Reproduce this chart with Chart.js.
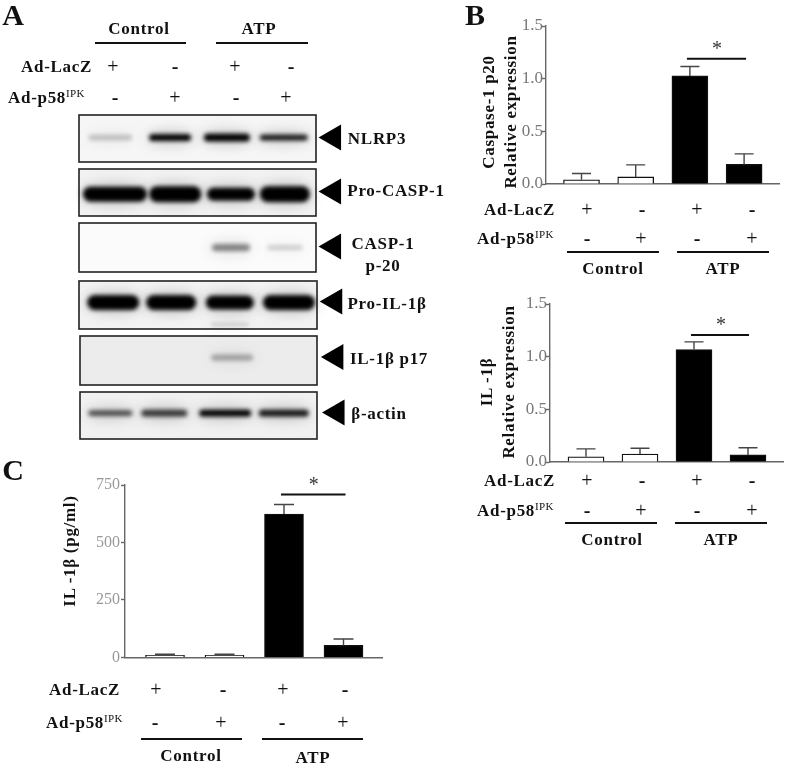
<!DOCTYPE html>
<html>
<head>
<meta charset="utf-8">
<script src="https://cdn.jsdelivr.net/npm/chart.js@4"></script>
<style>
  html, body { margin: 0; background: #fff; }
  #page { position: relative; width: 787px; height: 765px; overflow: hidden; filter: blur(0.35px); }
  #page canvas { position: absolute; }
  .t { position: absolute; white-space: nowrap; font-family: "Liberation Serif", serif; color: #111; line-height: 1; }
  .t sup { font-size: 11px; font-weight: normal; vertical-align: 6px; line-height: 0; letter-spacing: 0.3px; }
  .rule { position: absolute; height: 2px; background: #111; }
</style>
</head>
<body>
<div id="page"></div>
<script>
// data
const categories = ['LacZ / Control', 'p58IPK / Control', 'LacZ / ATP', 'p58IPK / ATP'];
const lacZ = ['+', '-', '+', '-'];
const p58 = ['-', '+', '-', '+'];
const groups = ['Control', 'ATP'];

const casp20Values = [0.04, 0.067, 1.026, 0.186];
const casp20Errors = [0.06, 0.115, 0.09, 0.10];
const il1bValues = [0.05, 0.075, 1.067, 0.067];
const il1bErrors = [0.075, 0.055, 0.073, 0.068];
const elisaValues = [9, 9, 624, 52];
const elisaErrors = [5, 5, 41, 28];

const relativeTicks = ['0.0', '0.5', '1.0', '1.5'];
const elisaTicks = ['0', '250', '500', '750'];

const blotProteins = ['NLRP3', 'Pro-CASP-1', 'CASP-1 p-20', 'Pro-IL-1β', 'IL-1β p17', 'β-actin'];
// band darkness per lane, 0 = no band
const nlrp3Bands = [0.2, 1, 1, 0.9];
const proCaspBands = [1, 1, 1, 1];
const casp20Bands = [0, 0, 0.45, 0.17];
const proIlBands = [1, 1, 1, 1];
const p17Bands = [0, 0, 0.3, 0];
const actinBands = [0.65, 0.75, 1, 0.9];

const serif = '"Liberation Serif", serif';
const page = document.getElementById('page');

function text(x, y, html, o) {
  o = o || {};
  const el = document.createElement('div');
  el.className = 't';
  el.innerHTML = html;
  el.style.left = x + 'px';
  el.style.top = y + 'px';
  el.style.fontSize = (o.size || 17) + 'px';
  el.style.fontWeight = o.weight || 'bold';
  el.style.letterSpacing = (o.spacing === undefined ? 0.7 : o.spacing) + 'px';
  el.style.transform = o.rotate ? 'translate(-50%,-50%) rotate(-90deg)' : (o.left ? 'translateY(-50%)' : 'translate(-50%,-50%)');
  page.appendChild(el);
}

function rule(x0, x1, y) {
  const el = document.createElement('div');
  el.className = 'rule';
  el.style.left = x0 + 'px';
  el.style.width = (x1 - x0) + 'px';
  el.style.top = (y - 1) + 'px';
  page.appendChild(el);
}

function addCanvas(left, top, width, height) {
  const c = document.createElement('canvas');
  c.width = width;
  c.height = height;
  c.style.left = left + 'px';
  c.style.top = top + 'px';
  page.appendChild(c);
  return c;
}

// the +/- rows and Control / ATP brackets under each panel
function treatmentRows(b) {
  text(b.lacX, b.lacY, 'Ad-LacZ', { left: true });
  text(b.p58X, b.p58Y, 'Ad-p58<sup>IPK</sup>', { left: true });
  lacZ.forEach((s, i) => text(b.lacSigns[i], b.lacY, s, s === '+' ? { weight: 'normal', size: 20, spacing: 0 } : { size: 20, spacing: 0 }));
  p58.forEach((s, i) => text(b.p58Signs[i], b.p58Y, s, s === '+' ? { weight: 'normal', size: 20, spacing: 0 } : { size: 20, spacing: 0 }));
  rule(b.rules[0], b.rules[1], b.ruleY);
  rule(b.rules[2], b.rules[3], b.ruleY);
  text(b.groupX[0], b.groupY[0], groups[0]);
  text(b.groupX[1], b.groupY[1], groups[1]);
}

const whiskers = {
  id: 'whiskers',
  afterDatasetsDraw(chart, args, opts) {
    const { ctx, scales: { x, y } } = chart;
    ctx.save();
    ctx.strokeStyle = '#444';
    ctx.lineWidth = 1.4;
    opts.errors.forEach((e, i) => {
      const px = x.getPixelForValue(i + 1);
      const top = y.getPixelForValue(opts.values[i] + e);
      ctx.beginPath();
      ctx.moveTo(px, y.getPixelForValue(opts.values[i]));
      ctx.lineTo(px, top);
      ctx.moveTo(px - opts.cap, top);
      ctx.lineTo(px + opts.cap, top);
      ctx.stroke();
    });
    // significance bar between the two ATP bars
    const sy = y.getPixelForValue(opts.sigY);
    ctx.strokeStyle = '#111';
    ctx.lineWidth = 2;
    ctx.beginPath();
    ctx.moveTo(x.getPixelForValue(3) - opts.sigPad[0], sy);
    ctx.lineTo(x.getPixelForValue(4) + opts.sigPad[1], sy);
    ctx.stroke();
    ctx.fillStyle = '#333';
    ctx.font = '20px ' + serif;
    ctx.textAlign = 'center';
    ctx.textBaseline = 'middle';
    ctx.fillText('*', (x.getPixelForValue(3) + x.getPixelForValue(4)) / 2 + opts.starDx, sy - 9);
    ctx.restore();
  }
};

function barPanel(g, values, errors, ticks, yMax, step, sigY) {
  const padTop = 16, padBottom = 10, gutter = 44;
  const canvas = addCanvas(g.axisX - gutter, g.yTop - padTop, g.right - g.axisX + gutter, g.y0 - g.yTop + padTop + padBottom + g.fitGap);
  new Chart(canvas, {
    type: 'bar',
    data: {
      datasets: [{
        label: 'Relative expression',
        data: categories.map((c, i) => ({ x: i + 1, y: values[i] })),
        backgroundColor: ['#fff', '#fff', '#000', '#000'],
        borderColor: '#111',
        borderWidth: 1.3,
        barThickness: g.barW
      }]
    },
    options: {
      responsive: false,
      animation: false,
      events: [],
      layout: { padding: { top: padTop, bottom: padBottom, left: 0, right: 0 }, autoPadding: false },
      plugins: {
        legend: { display: false },
        tooltip: { enabled: false },
        whiskers: { values, errors, cap: g.cap, sigY, sigPad: g.sigPad, starDx: g.starDx }
      },
      scales: {
        x: {
          type: 'linear',
          offset: false,
          min: 1 + (g.axisX - g.c1) / g.sp,
          max: 1 + (g.right - g.c1) / g.sp,
          ticks: { display: false },
          grid: { display: false, drawTicks: false },
          border: { color: '#666', width: 1.4 },
          afterFit: s => { s.height = 0; }
        },
        y: {
          min: 0,
          max: yMax,
          afterFit: s => { s.width = gutter; },
          ticks: {
            stepSize: step,
            padding: g.tickPad,
            color: g.tickColor,
            font: { family: serif, size: g.tickSize },
            callback: (v, i) => ticks[i]
          },
          grid: { drawOnChartArea: false, drawTicks: true, tickLength: 4, tickColor: '#666', tickWidth: 1.4 },
          border: { color: '#666', width: 1.4 }
        }
      }
    },
    plugins: [whiskers]
  });
}

// panel letters
text(13, 15, 'A', { size: 30, spacing: 0 });
text(475, 15, 'B', { size: 30, spacing: 0 });
text(13, 470, 'C', { size: 30, spacing: 0 });

// ---- panel A, blot ----
treatmentRows({
  lacX: 21, lacY: 66, p58X: 8, p58Y: 97,
  lacSigns: [113, 175, 235, 291], p58Signs: [115, 175, 236, 286],
  rules: [95, 186, 216, 308], ruleY: 43, groupX: [139, 259], groupY: [28, 28]
});

// strips of membrane, in page pixels
const strips = [
  { x0: 79, x1: 316, y0: 115, y1: 162, bg: '#f6f6f6' },
  { x0: 79, x1: 316, y0: 169, y1: 216, bg: '#f2f2f2' },
  { x0: 79, x1: 316, y0: 223, y1: 272, bg: '#fbfbfb' },
  { x0: 79, x1: 317, y0: 281, y1: 329, bg: '#f3f3f3' },
  { x0: 80, x1: 317, y0: 336, y1: 385, bg: '#ececec' },
  { x0: 80, x1: 317, y0: 392, y1: 439, bg: '#f1f1f1' }
];
// where each band sits and how big it looks: lane position, row position, width, height
const bandLook = [
  [[0.97, 0, 44, 6], [2.0, 0, 42, 7], [2.98, 0, 46, 8], [3.96, 0, 48, 6]],
  [[1.05, 0.03, 64, 15], [2.09, 0.03, 52, 16], [3.05, 0.03, 48, 13], [3.98, 0.03, 50, 16]],
  [[0, 0, 0, 0], [0, 0, 0, 0], [3.05, 0, 38, 7], [3.98, 0, 36, 5]],
  [[1.02, 0, 52, 15], [2.02, 0, 50, 15], [3.03, 0, 48, 14], [4.05, 0, 52, 15]],
  [[0, 0, 0, 0], [0, 0, 0, 0], [3.07, 0, 42, 6], [0, 0, 0, 0]],
  [[0.97, 0.01, 44, 6], [1.9, 0.01, 46, 7], [2.95, 0.01, 52, 7], [3.96, 0.01, 50, 7]]
];

function bandSprite(w, h, dark) {
  const c = document.createElement('canvas');
  c.width = w + 60;
  c.height = h + 60;
  const g = c.getContext('2d');
  const cx = c.width / 2, cy = c.height / 2;
  g.filter = 'blur(7px)';
  g.fillStyle = 'rgba(0,0,0,' + (0.2 * Math.min(1, dark * 1.3)) + ')';
  g.beginPath();
  g.ellipse(cx, cy, w / 2 + 3, h / 2 + 3, 0, 0, Math.PI * 2);
  g.fill();
  g.filter = 'blur(2px)';
  g.fillStyle = 'rgba(0,0,0,' + dark + ')';
  g.beginPath();
  g.roundRect(cx - w / 2, cy - h / 2, w, h, h / 2);
  g.fill();
  return c;
}

const rowsOfBands = [nlrp3Bands, proCaspBands, casp20Bands, proIlBands, p17Bands, actinBands];
const bandPoints = [], bandSprites = [];
rowsOfBands.forEach((row, r) => row.forEach((dark, lane) => {
  if (!dark) return;
  const look = bandLook[r][lane];
  bandPoints.push({ x: look[0], y: r + look[1] });
  bandSprites.push(bandSprite(look[2], look[3], dark));
}));
// smear of the p17 band that shows under the pro-IL-1b strip
bandPoints.push({ x: 3.03, y: 3.4 });
bandSprites.push(bandSprite(38, 3, 0.18));

const blotLeft = 76, blotTop = 110, blotW = 269, blotH = 335;
const arrowPoints = [
  { x: 4.82, y: 0 }, { x: 4.82, y: 0.98 }, { x: 4.82, y: 1.98 },
  { x: 4.84, y: 2.98 }, { x: 4.86, y: 3.99 }, { x: 4.88, y: 5 }
];

const stripPlugin = {
  id: 'strips',
  beforeDatasetsDraw(chart) {
    const ctx = chart.ctx;
    ctx.save();
    strips.forEach(s => {
      ctx.fillStyle = s.bg;
      ctx.fillRect(s.x0 - blotLeft, s.y0 - blotTop, s.x1 - s.x0, s.y1 - s.y0);
      ctx.strokeStyle = '#222';
      ctx.lineWidth = 1.6;
      ctx.strokeRect(s.x0 - blotLeft, s.y0 - blotTop, s.x1 - s.x0, s.y1 - s.y0);
    });
    ctx.restore();
  }
};

new Chart(addCanvas(blotLeft, blotTop, blotW, blotH), {
  type: 'scatter',
  data: {
    datasets: [
      {
        label: 'Bands',
        data: bandPoints,
        pointStyle: c => bandSprites[c.dataIndex],
        pointRadius: 5,
        clip: false
      },
      {
        label: 'Arrows',
        data: arrowPoints,
        pointStyle: 'triangle',
        rotation: -90,
        pointRadius: 15,
        backgroundColor: '#000',
        borderColor: '#000',
        borderWidth: 0,
        clip: false
      }
    ]
  },
  options: {
    responsive: false,
    animation: false,
    events: [],
    layout: { padding: 0, autoPadding: false },
    plugins: { legend: { display: false }, tooltip: { enabled: false } },
    scales: {
      x: { display: false, min: 0.379, max: 5.017 },
      y: { display: false, reverse: true, min: -0.5, max: 5.59 }
    }
  },
  plugins: [stripPlugin]
});

text(377, 138, blotProteins[0]);
text(396, 190, blotProteins[1]);
text(383, 243, 'CASP-1');
text(383, 265, 'p-20');
text(387, 303, blotProteins[3]);
text(389, 358, blotProteins[4]);
text(379, 413, blotProteins[5]);

// ---- panel B, top ----
barPanel({ axisX: 546, right: 780, yTop: 26, y0: 182, c1: 581.5, sp: 54.2, barW: 36, cap: 9.5, sigPad: [3, 2], starDx: 0, tickColor: '#777', tickSize: 17, tickPad: -1, fitGap: 2 },
  casp20Values, casp20Errors, relativeTicks, 1.5, 0.5, 1.19);
text(488, 112, 'Caspase-1 p20', { rotate: true });
text(510, 112, 'Relative expression', { rotate: true });
treatmentRows({
  lacX: 484, lacY: 209, p58X: 477, p58Y: 238,
  lacSigns: [587, 642, 697, 752], p58Signs: [587, 641, 697, 752],
  rules: [567, 659, 677, 769], ruleY: 252, groupX: [613, 723], groupY: [268, 268]
});

// ---- panel B, bottom ----
barPanel({ axisX: 550, right: 784, yTop: 304.3, y0: 460.3, c1: 586, sp: 54, barW: 36, cap: 9.5, sigPad: [3, 1], starDx: 0, tickColor: '#777', tickSize: 17, tickPad: -1, fitGap: 2 },
  il1bValues, il1bErrors, relativeTicks, 1.5, 0.5, 1.205);
text(486, 382, 'IL -1β', { rotate: true });
text(508, 382, 'Relative expression', { rotate: true });
treatmentRows({
  lacX: 484, lacY: 480, p58X: 477, p58Y: 510,
  lacSigns: [587, 642, 697, 752], p58Signs: [587, 641, 697, 752],
  rules: [565, 657, 675, 767], ruleY: 523, groupX: [612, 721], groupY: [539, 539]
});

// ---- panel C ----
barPanel({ axisX: 125, right: 383, yTop: 484.7, y0: 657.3, c1: 165, sp: 59.5, barW: 39, cap: 10, sigPad: [3, 2], starDx: 0, tickColor: '#999', tickSize: 16, tickPad: 1, fitGap: 1 },
  elisaValues, elisaErrors, elisaTicks, 750, 250, 709);
text(69, 551, 'IL -1β (pg/ml)', { rotate: true });
treatmentRows({
  lacX: 49, lacY: 689, p58X: 46, p58Y: 722,
  lacSigns: [156, 223, 283, 345], p58Signs: [155, 221, 282, 343],
  rules: [141, 242, 262, 363], ruleY: 739, groupX: [191, 313], groupY: [755, 757]
});
</script>
</body>
</html>
